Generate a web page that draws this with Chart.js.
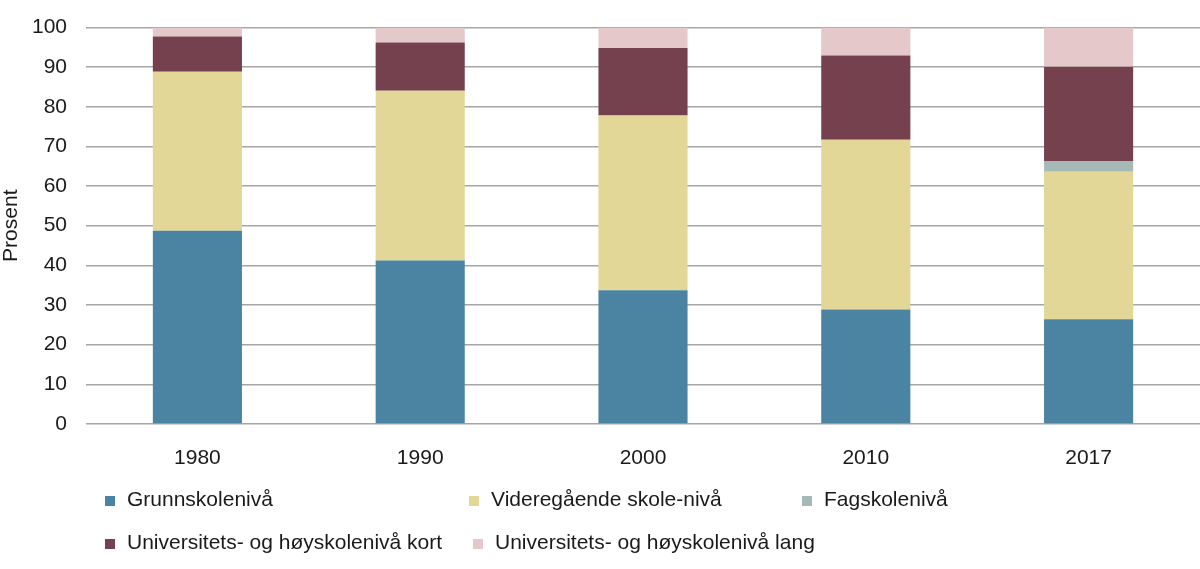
<!DOCTYPE html>
<html>
<head>
<meta charset="utf-8">
<script src="https://cdn.jsdelivr.net/npm/chart.js@4"></script>
<style>
  body { margin: 0; background: #fff; }
  #wrap { position: relative; width: 1200px; height: 569px; }
  .legend-item {
    position: absolute;
    font-family: "Liberation Sans", Arial, sans-serif;
    font-size: 21px;
    color: #1a1a1a;
    white-space: nowrap;
    line-height: 24px;
  }
  .legend-item span.box {
    display: inline-block;
    width: 10px;
    height: 10px;
    margin-right: 12px;
    vertical-align: 0px;
  }
</style>
</head>
<body>
<div id="wrap">
  <canvas id="eduChart" width="1200" height="569"></canvas>
  <div id="legend"></div>
</div>
<script>
const years = ['1980', '1990', '2000', '2010', '2017'];
const grunnskole = [48.7, 41.2, 33.7, 28.9, 26.4];
const videregaende = [40.1, 42.8, 44.1, 42.8, 37.2];
const fagskole = [0, 0, 0, 0, 2.7];
const uniKort = [8.9, 12.2, 17.0, 21.2, 23.8];
const uniLang = [2.3, 3.8, 5.2, 7.1, 9.9];
const yTicks = [0, 10, 20, 30, 40, 50, 60, 70, 80, 90, 100];

const seriesNames = ['Grunnskolenivå', 'Videregående skole-nivå', 'Fagskolenivå',
    'Universitets- og høyskolenivå kort', 'Universitets- og høyskolenivå lang'];
const seriesData = [grunnskole, videregaende, fagskole, uniKort, uniLang];
const colors = ['#4a84a2', '#e2d797', '#a5b9b7', '#76414f', '#e4c8ca'];

// legend positions (left of box, top of line) in px
const legendPos = [[105, 487], [469, 487], [802, 487], [105, 530], [473, 530]];

const legendEl = document.getElementById('legend');
seriesNames.forEach((name, i) => {
    const item = document.createElement('div');
    item.className = 'legend-item';
    item.style.left = legendPos[i][0] + 'px';
    item.style.top = legendPos[i][1] + 'px';
    item.innerHTML = `<span class="box" style="background:${colors[i]}"></span>${name}`;
    legendEl.appendChild(item);
});

const ctx = document.getElementById('eduChart').getContext('2d');
new Chart(ctx, {
    type: 'bar',
    data: {
        labels: years,
        datasets: seriesNames.map((name, i) => ({
            label: name,
            data: seriesData[i],
            backgroundColor: colors[i],
            borderWidth: 0,
            barPercentage: 0.4,
            categoryPercentage: 1.0
        }))
    },
    options: {
        responsive: false,
        animation: false,
        layout: { padding: { top: 27, right: 0, bottom: 0, left: 0 } },
        plugins: {
            legend: { display: false },
            tooltip: { enabled: false }
        },
        scales: {
            x: {
                stacked: true,
                grid: { display: false },
                border: { display: false },
                ticks: {
                    color: '#1a1a1a',
                    padding: 14,
                    font: { family: 'Liberation Sans', size: 21 }
                },
                afterFit: (scale) => { scale.height = 145; }
            },
            y: {
                stacked: true,
                min: 0,
                max: 100,
                afterBuildTicks: (scale) => { scale.ticks = yTicks.map(v => ({ value: v })); },
                grid: { color: '#a6a6a6', lineWidth: 1.4, drawTicks: false },
                border: { display: false },
                ticks: {
                    color: '#1a1a1a',
                    padding: 19,
                    font: { family: 'Liberation Sans', size: 21, lineHeight: 0.8 }
                },
                title: {
                    display: true,
                    text: 'Prosent',
                    color: '#1a1a1a',
                    padding: { top: 0, bottom: 0 },
                    font: { family: 'Liberation Sans', size: 21, lineHeight: 1.1 }
                },
                afterFit: (scale) => { scale.width = 86; }
            }
        }
    }
});
</script>
</body>
</html>
